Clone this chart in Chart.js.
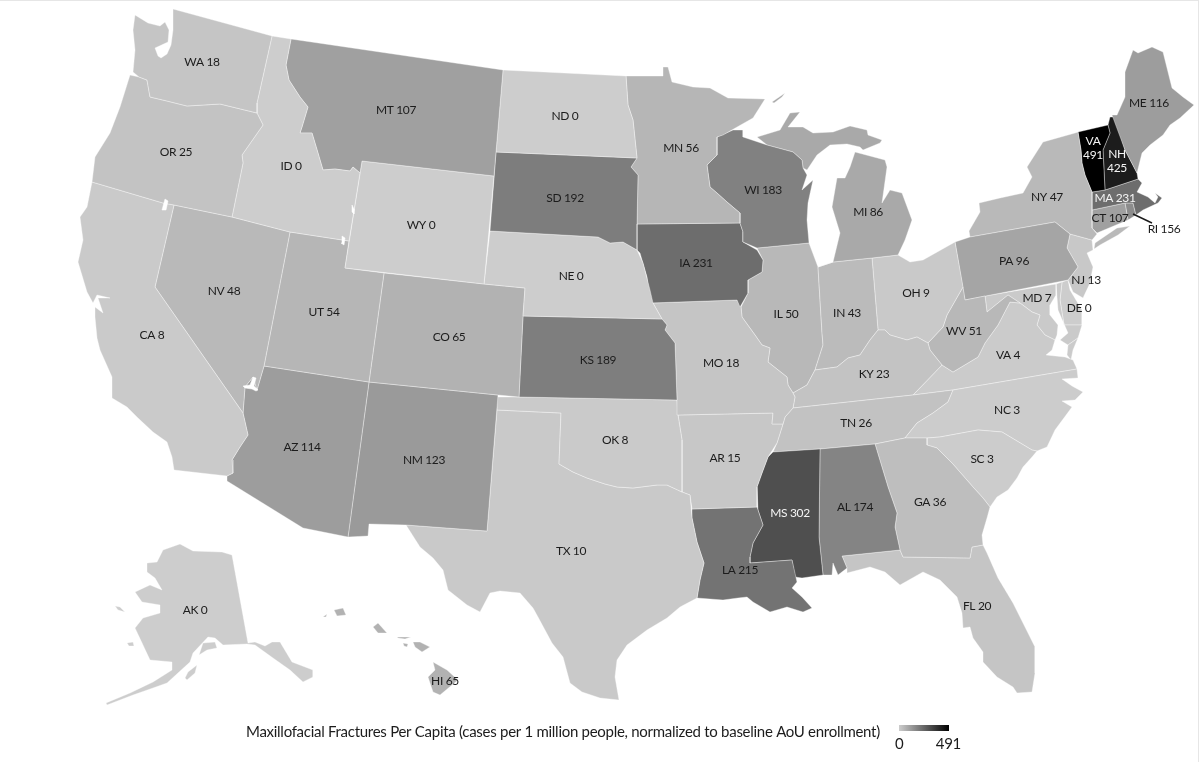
<!DOCTYPE html>
<html>
<head>
<meta charset="utf-8">
<script src="https://cdn.jsdelivr.net/npm/chart.js@4/dist/chart.umd.js"></script>
<style>
  html, body { margin: 0; padding: 0; background: #fff; }
  canvas { display: block; }
  #edge { position: absolute; left: 0; top: 0; width: 1198px; height: 761px; border-top: 1px solid #e6e6e6; border-right: 1px solid #e6e6e6; }
</style>
</head>
<body>
<canvas id="mapChart" width="1200" height="762"></canvas>
<div id="edge"></div>
<script>
// state values
const stateCodes = ['WA','OR','ID','MT','WY','ND','SD','NE','MN','WI','IA','MI','CA','NV','UT','CO','AZ','NM','KS','MO','OK','TX','AR','LA','MS','AL','GA','FL','SC','NC','TN','KY','IN','IL','OH','WV','VA','PA','NY','ME','VT','NH','MA','CT','RI','NJ','MD','DE','AK','HI'];
const stateValues = [18,25,0,107,0,0,192,0,56,183,231,86,8,48,54,65,114,123,189,18,8,10,15,215,302,174,36,20,3,3,26,23,43,50,9,51,4,96,47,116,491,425,231,107,156,13,7,0,0,65];
// the source labels Vermont "VA", kept as printed
const stateLabels = ['WA 18','OR 25','ID 0','MT 107','WY 0','ND 0','SD 192','NE 0','MN 56','WI 183','IA 231','MI 86','CA 8','NV 48','UT 54','CO 65','AZ 114','NM 123','KS 189','MO 18','OK 8','TX 10','AR 15','LA 215','MS 302','AL 174','GA 36','FL 20','SC 3','NC 3','TN 26','KY 23','IN 43','IL 50','OH 9','WV 51','VA 4','PA 96','NY 47','ME 116','VA\n491','NH\n425','MA 231','CT 107','RI 156','NJ 13','MD 7','DE 0','AK 0','HI 65'];
const labelX = [202,176,291,396,421,565,565,571,681,763,696,868,152,224,324,449,302,424,598,721,615,571,725,740,790,855,930,977,982,1007,856,874,847,786,916,964,1008,1014,1047,1149,1093,1117,1115,1110,1164,1086,1037,1079,195,445];
const labelY = [62,152,166,110,225,116,198,276,148,190,263,212,335,291,312,337,447,460,360,363,440,551,458,570,513,507,502,606,459,410,423,374,313,314,293,331,355,261,197,103,141,154,198,218,229,280,298,308,610,681];
const maxValue = 491;

// state outlines in map units, one list per piece of land
const stateShapes = {
  WA: [[[135,15],[148,23],[160,26],[165,22],[169,30],[168,42],[155,48],[158,56],[161,58],[167,54],[171,45],[173,30],[173,9],[272,36],[257,103],[257,113],[220,104],[187,106],[167,101],[150,97],[147,80],[139,77],[133,72],[135,50],[133,30]]],
  OR: [[[130,75],[139,77],[147,80],[150,97],[167,101],[187,106],[220,104],[257,113],[263,125],[242,155],[243,163],[232,217],[174,205],[163,203],[92,182],[95,157],[110,133],[120,107]]],
  ID: [[[272,36],[291,39],[286,65],[289,80],[300,97],[308,107],[302,127],[300,133],[312,133],[318,153],[323,170],[335,169],[350,171],[353,167],[360,173],[349,241],[290,232],[232,217],[243,163],[242,155],[263,125],[257,113],[257,103]]],
  MT: [[[291,39],[503,70],[496,152],[494,176],[362,161],[360,173],[353,167],[350,171],[335,169],[323,170],[318,153],[312,133],[300,133],[302,127],[308,107],[300,97],[289,80],[286,65]]],
  WY: [[[362,161],[494,176],[484,284],[345,268]]],
  ND: [[[503,70],[626,76],[628,105],[633,120],[637,158],[496,152]]],
  SD: [[[496,152],[637,158],[631,167],[638,175],[637,224],[637,250],[623,242],[610,243],[598,237],[490,231]]],
  NE: [[[490,231],[598,237],[610,243],[623,242],[637,250],[643,263],[650,290],[653,303],[662,319],[523,316],[525,288],[484,284]]],
  MN: [[[626,76],[663,76],[663,67],[668,67],[672,82],[693,87],[710,88],[728,98],[765,99],[753,118],[723,135],[717,137],[717,155],[707,165],[710,187],[717,193],[727,202],[740,213],[740,223],[637,224],[638,175],[631,167],[637,158],[633,120],[628,105]]],
  WI: [[[717,137],[733,130],[743,130],[743,137],[767,145],[793,152],[802,160],[803,168],[807,175],[802,190],[813,180],[808,203],[807,220],[809,243],[757,248],[743,242],[743,232],[740,223],[740,213],[727,202],[717,193],[710,187],[707,165],[717,155]]],
  IA: [[[637,224],[740,223],[743,232],[743,242],[757,250],[763,260],[762,272],[748,280],[748,293],[740,307],[737,300],[650,303],[647,277],[640,253],[637,250]]],
  MI: [
    [[818,267],[833,262],[872,258],[898,255],[905,240],[912,220],[902,193],[890,190],[882,203],[887,167],[885,160],[855,152],[850,167],[845,178],[837,178],[832,207],[840,233],[833,262]],
    [[757,137],[767,145],[793,152],[802,160],[803,168],[807,170],[817,155],[830,145],[847,144],[860,147],[863,150],[880,143],[882,140],[868,135],[867,130],[850,126],[833,132],[813,133],[803,127],[788,127],[800,112],[790,113],[780,130]],
    [[772,102],[785,93],[782,97],[774,103]]
  ],
  CA: [[[92,182],[163,203],[174,205],[155,287],[243,413],[248,435],[240,447],[232,460],[233,473],[227,476],[174,470],[172,457],[167,442],[153,432],[138,418],[127,407],[112,398],[112,377],[100,350],[97,338],[95,317],[95,307],[103,313],[98,298],[110,298],[97,295],[93,303],[87,292],[78,262],[83,240],[80,217],[87,207]]],
  NV: [[[174,205],[232,217],[290,232],[264,366],[257,390],[253,377],[245,387],[243,413],[155,287]]],
  UT: [[[290,232],[349,241],[345,268],[384,273],[369,382],[264,366]]],
  CO: [[[384,273],[484,284],[525,288],[523,316],[519,397],[498,395],[369,382]]],
  AZ: [[[264,366],[369,382],[349,530],[348,537],[338,535],[303,528],[227,481],[227,476],[233,473],[232,460],[240,447],[248,435],[243,413],[245,387],[253,377],[257,390]]],
  NM: [[[369,382],[498,395],[487,531],[406,525],[369,524],[368,536],[348,537]]],
  KS: [[[523,316],[662,319],[667,325],[665,330],[675,343],[677,400],[519,397]]],
  MO: [[[653,303],[737,300],[741,307],[742,317],[755,335],[762,345],[770,348],[768,362],[787,377],[788,385],[793,393],[795,397],[793,408],[785,417],[783,424],[772,424],[773,413],[678,415],[677,400],[675,343],[665,330],[667,325],[662,319]]],
  OK: [[[497,397],[519,397],[677,400],[678,415],[682,440],[682,492],[667,485],[657,485],[633,488],[617,487],[605,484],[587,478],[573,472],[559,464],[561,413],[497,410]]],
  TX: [[[497,410],[561,413],[559,464],[573,472],[587,478],[605,484],[617,487],[633,488],[657,485],[667,485],[682,492],[690,495],[692,518],[697,542],[704,563],[700,580],[697,598],[680,607],[667,618],[647,630],[627,645],[617,660],[615,677],[619,700],[600,698],[582,692],[570,683],[563,657],[552,643],[538,617],[533,608],[520,593],[500,591],[490,593],[480,612],[467,605],[448,590],[443,570],[433,558],[420,547],[406,525],[487,531]]],
  AR: [[[678,415],[773,413],[772,424],[783,424],[777,443],[768,457],[762,473],[757,487],[757,507],[692,509],[690,495],[682,492],[682,440]]],
  LA: [[[692,509],[757,507],[758,510],[763,525],[753,543],[750,557],[750,563],[792,560],[797,582],[792,588],[802,597],[812,608],[803,612],[787,607],[770,612],[753,602],[747,597],[738,598],[723,600],[697,598],[700,580],[704,563],[697,542],[692,518]]],
  MS: [[[773,452],[820,449],[819,537],[823,575],[802,578],[795,577],[792,560],[750,563],[750,557],[753,543],[763,525],[758,510],[757,487],[762,473],[768,457]]],
  AL: [[[820,449],[875,444],[888,487],[897,513],[895,527],[900,550],[842,556],[847,568],[838,575],[833,563],[832,575],[823,575],[819,537]]],
  GA: [[[875,444],[905,438],[927,438],[927,445],[937,448],[952,463],[973,487],[983,498],[990,507],[987,518],[982,535],[983,545],[972,547],[970,558],[903,557],[900,550],[895,527],[897,513],[888,487]]],
  FL: [[[842,556],[900,550],[903,557],[970,558],[972,547],[983,545],[987,553],[998,578],[1013,603],[1030,637],[1035,647],[1035,673],[1032,692],[1017,693],[1013,687],[997,677],[983,662],[983,652],[973,638],[970,627],[963,628],[962,613],[957,597],[940,580],[923,572],[900,585],[885,572],[870,567],[847,573],[847,568]]],
  SC: [[[927,438],[940,437],[978,430],[1002,432],[1032,450],[1037,451],[1032,457],[1023,467],[1017,478],[1008,490],[997,497],[990,507],[983,498],[973,487],[952,463],[937,448],[927,445]]],
  NC: [[[953,390],[1077,369],[1078,378],[1062,379],[1072,386],[1083,392],[1075,400],[1062,401],[1072,407],[1055,430],[1047,447],[1037,451],[1032,450],[1002,432],[978,430],[940,437],[927,438],[905,438],[917,423],[933,413],[948,402]]],
  TN: [[[793,408],[913,395],[953,390],[948,402],[933,413],[917,423],[905,438],[875,444],[820,449],[773,452],[777,443],[783,424],[785,417]]],
  KY: [[[793,393],[807,385],[815,370],[837,367],[848,358],[860,355],[870,340],[878,330],[885,330],[890,335],[907,340],[917,337],[928,343],[930,350],[942,365],[913,395],[793,408],[795,397]]],
  IN: [[[818,267],[833,262],[872,258],[878,330],[870,340],[860,355],[848,358],[837,367],[815,370],[823,345],[822,333]]],
  IL: [[[757,248],[809,243],[818,267],[822,333],[823,345],[815,370],[807,385],[793,393],[788,385],[787,377],[768,362],[770,348],[762,345],[755,335],[742,317],[741,307],[748,293],[748,280],[762,272],[763,260]]],
  OH: [[[872,258],[898,255],[910,262],[923,260],[955,242],[963,287],[947,315],[943,327],[928,343],[917,337],[907,340],[890,335],[885,330],[878,330]]],
  WV: [[[963,287],[965,300],[985,296],[987,312],[1008,295],[1020,303],[1010,302],[998,325],[985,343],[978,357],[953,372],[942,365],[930,350],[928,343],[943,327],[947,315]]],
  VA: [
    [[953,372],[978,357],[985,343],[998,325],[1010,302],[1020,303],[1032,312],[1040,315],[1037,325],[1045,335],[1055,340],[1052,350],[1046,355],[1065,357],[1073,360],[1077,369],[953,390],[913,395],[942,365]],
    [[1078,338],[1073,350],[1071,360],[1067,355],[1068,345]]
  ],
  PA: [[[955,242],[970,237],[1055,222],[1070,234],[1067,248],[1078,267],[1068,280],[965,300]]],
  NY: [
    [[970,237],[969,231],[980,212],[979,203],[1000,198],[1023,193],[1032,177],[1027,167],[1043,142],[1075,133],[1078,132],[1081,150],[1082,163],[1085,175],[1092,192],[1092,228],[1097,234],[1092,240],[1070,234],[1055,222]],
    [[1095,243],[1117,228],[1130,226],[1118,235],[1100,245],[1094,249]]
  ],
  ME: [[[1112,115],[1117,115],[1125,97],[1125,72],[1133,50],[1138,53],[1152,47],[1163,52],[1172,88],[1183,97],[1194,105],[1180,118],[1170,125],[1163,135],[1150,145],[1142,153],[1137,173],[1125,150]]],
  VT: [[[1078,132],[1108,125],[1110,133],[1103,150],[1105,190],[1092,192],[1085,175],[1082,163],[1081,150]]],
  NH: [[[1110,117],[1115,117],[1125,150],[1137,173],[1138,179],[1105,190],[1103,150],[1110,133],[1108,125]]],
  MA: [[[1092,192],[1105,190],[1138,179],[1142,183],[1137,192],[1148,197],[1155,203],[1158,197],[1155,193],[1162,198],[1158,203],[1143,210],[1136,215],[1133,203],[1125,203],[1092,210]]],
  CT: [[[1092,210],[1125,203],[1128,220],[1097,233],[1092,228]]],
  RI: [[[1125,203],[1133,203],[1136,215],[1128,220]]],
  NJ: [[[1070,234],[1092,240],[1093,250],[1087,253],[1093,267],[1090,283],[1083,298],[1073,292],[1068,280],[1078,267],[1067,248]]],
  MD: [
    [[985,296],[1056,284],[1056,295],[1050,305],[1050,315],[1058,325],[1057,335],[1055,340],[1045,335],[1037,325],[1040,315],[1032,312],[1020,303],[1008,295],[987,312]],
    [[1056,284],[1062,282],[1060,300],[1064,325],[1082,325],[1078,338],[1068,345],[1060,340],[1068,333],[1058,310]]
  ],
  DE: [[[1062,282],[1068,280],[1070,290],[1082,310],[1082,325],[1064,325],[1060,300]]],
  AK: [
    [[180,544],[193,551],[222,552],[232,555],[248,643],[255,642],[265,646],[272,642],[280,642],[292,662],[313,670],[313,677],[303,682],[290,670],[273,658],[255,645],[247,644],[223,645],[215,638],[208,637],[193,653],[190,662],[167,683],[153,688],[133,695],[107,705],[106,703],[130,693],[153,682],[172,670],[172,662],[150,660],[143,645],[135,628],[143,618],[160,613],[160,605],[142,602],[135,592],[150,585],[162,590],[155,578],[147,572],[147,563],[157,562],[163,550]],
    [[199,655],[203,643],[215,642],[217,648],[207,650]],
    [[115,606],[120,607],[125,612],[118,610]],
    [[127,643],[133,642],[134,646],[129,646]],
    [[185,678],[188,672],[197,665],[195,673],[187,680]]
  ],
  HI: [
    [[433,662],[447,670],[458,680],[440,695],[433,692],[428,677],[435,670]],
    [[413,642],[420,642],[430,647],[422,652],[415,647]],
    [[397,637],[411,637],[405,639],[398,638]],
    [[403,643],[408,644],[407,647],[404,646]],
    [[373,627],[378,623],[387,633],[378,633]],
    [[334,610],[343,608],[346,615],[337,616]],
    [[323,617],[327,614],[326,617]]
  ]
};

// lakes on the state lines and the leader to the RI label
const waterShapes = [
  [[165,199],[168,201],[166,210],[162,210]],
  [[342,236],[345,238],[344,245],[341,243]],
  [[352,205],[354,209],[354,214],[352,212]],
  [[243,386],[250,385],[253,377],[256,378],[254,386],[258,390],[256,391],[252,389],[245,388]]
];
const leaderLine = [[1133,214],[1152,223]];

const titleText = 'Maxillofacial Fractures Per Capita (cases per 1 million people, normalized to baseline AoU enrollment)';
const whiteLabels = ['VT','NH','MA','MS'];

function greyFor(value) {
  const g = Math.round(205 * (1 - value / maxValue));
  return 'rgb(' + g + ',' + g + ',' + g + ')';
}

function toPoints(list) {
  return list.map(p => ({ x: p[0], y: p[1] }));
}

const datasets = [];

datasets.push({
  data: toPoints(leaderLine),
  showLine: true, pointRadius: 0, borderColor: '#1a1a1a', borderWidth: 1.4
});

waterShapes.forEach(ring => {
  datasets.push({
    data: toPoints(ring.concat([ring[0]])),
    showLine: true, pointRadius: 0, fill: 'shape',
    backgroundColor: '#fff', borderColor: '#fff', borderWidth: 0.5
  });
});

stateCodes.forEach((code, i) => {
  stateShapes[code].forEach(ring => {
    datasets.push({
      label: code,
      data: toPoints(ring.concat([ring[0]])),
      showLine: true, pointRadius: 0, tension: 0, fill: 'shape',
      backgroundColor: greyFor(stateValues[i]),
      borderColor: 'rgba(255,255,255,0.6)', borderWidth: 0.6
    });
  });
});

// state labels, title and the grey ramp go on top of the map
const mapText = {
  id: 'mapText',
  afterDatasetsDraw(chart) {
    const ctx = chart.ctx;
    const xs = chart.scales.x;
    const ys = chart.scales.y;
    ctx.save();
    ctx.textAlign = 'center';
    ctx.textBaseline = 'middle';
    ctx.font = '12px Lato';
    ctx.letterSpacing = '-0.35px';
    stateLabels.forEach((text, i) => {
      ctx.fillStyle = whiteLabels.includes(stateCodes[i]) ? '#f4f4f4' : '#1c1c1c';
      text.split('\n').forEach((line, n) => {
        ctx.fillText(line, xs.getPixelForValue(labelX[i]), ys.getPixelForValue(labelY[i] + n * 14.5));
      });
    });

    ctx.fillStyle = '#1c1c1c';
    ctx.textAlign = 'left';
    ctx.font = '15px Lato';
    ctx.letterSpacing = '-0.28px';
    ctx.fillText(titleText, xs.getPixelForValue(246), ys.getPixelForValue(732));

    const ramp = ctx.createLinearGradient(xs.getPixelForValue(899), 0, xs.getPixelForValue(949), 0);
    ramp.addColorStop(0, greyFor(0));
    ramp.addColorStop(1, greyFor(maxValue));
    ctx.fillStyle = ramp;
    ctx.fillRect(xs.getPixelForValue(899), ys.getPixelForValue(725), 50, 6);

    ctx.fillStyle = '#1c1c1c';
    ctx.fillText('0', xs.getPixelForValue(895), ys.getPixelForValue(744));
    ctx.textAlign = 'right';
    ctx.fillText(String(maxValue), xs.getPixelForValue(961), ys.getPixelForValue(744));
    ctx.restore();
  }
};

new Chart(document.getElementById('mapChart'), {
  type: 'scatter',
  data: { datasets: datasets },
  plugins: [mapText],
  options: {
    responsive: false,
    animation: false,
    events: [],
    layout: { padding: 0 },
    plugins: { legend: { display: false }, tooltip: { enabled: false } },
    scales: {
      x: { type: 'linear', display: false, min: 0, max: 1200 },
      y: { type: 'linear', display: false, min: 0, max: 762, reverse: true }
    }
  }
});
</script>
</body>
</html>
